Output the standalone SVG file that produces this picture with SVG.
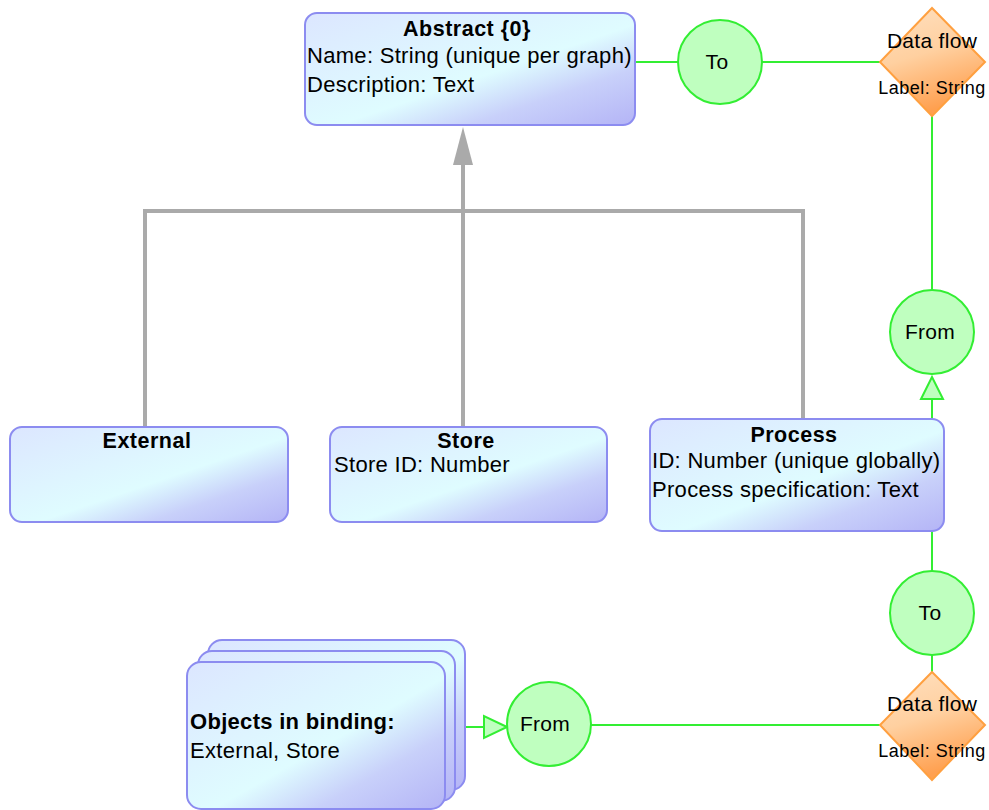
<svg xmlns="http://www.w3.org/2000/svg" width="989" height="810" viewBox="0 0 989 810">
<style>
.box{stroke:#8c8cf0;stroke-width:2;fill:url(#bg)}
.t{font-family:"Liberation Sans",Arial,sans-serif;font-size:22px;fill:#000;letter-spacing:0.3px}
.b{font-weight:bold;font-size:21.5px;text-anchor:middle;letter-spacing:0.5px}
.s{font-size:18px;text-anchor:middle;letter-spacing:0.5px}
.m{text-anchor:middle;font-size:21px}
.gr{stroke:#aaaaaa;stroke-width:4;fill:none}
.gn{stroke:#33ee33;stroke-width:2;fill:none}
.c{fill:#bfffbf;stroke:#33ee33;stroke-width:2}
.d{fill:url(#og);stroke:#ffa040;stroke-width:2}
</style>
<defs>
<linearGradient id="bg" x1="0" y1="0" x2="1" y2="1">
<stop offset="0" stop-color="#dce6ff"/>
<stop offset="0.55" stop-color="#dffcff"/>
<stop offset="0.75" stop-color="#c8d0fa"/>
<stop offset="1" stop-color="#b4b4f6"/>
</linearGradient>
<linearGradient id="og" x1="0" y1="0" x2="0.3" y2="1">
<stop offset="0" stop-color="#ffe0c0"/>
<stop offset="0.5" stop-color="#ffd0a0"/>
<stop offset="1" stop-color="#ffa050"/>
</linearGradient>
<clipPath id="clipA"><rect x="305" y="13" width="330" height="112" rx="12"/></clipPath>
</defs>
<g id="connectors">
<polyline class="gr" points="145,427 145,211 803,211 803,419"/>
<line class="gr" x1="463" y1="160" x2="463" y2="427"/>
<polygon points="463,127 453,165 473,165" fill="#aaaaaa"/>
<line class="gn" x1="635" y1="62" x2="678" y2="62"/>
<line class="gn" x1="762" y1="62" x2="880" y2="62"/>
<line class="gn" x1="932" y1="116" x2="932" y2="290"/>
<line class="gn" x1="932" y1="400" x2="932" y2="419"/>
<polygon points="932,377 921,399 943,399" fill="#bfffbf" stroke="#33ee33" stroke-width="2"/>
<line class="gn" x1="932" y1="531" x2="932" y2="572"/>
<line class="gn" x1="932" y1="655" x2="932" y2="672"/>
<line class="gn" x1="465" y1="727" x2="484" y2="727"/>
<polygon points="507,727 484,716 484,738" fill="#bfffbf" stroke="#33ee33" stroke-width="2"/>
<line class="gn" x1="591" y1="725" x2="880" y2="725"/>
</g>
<g id="abstract">
<rect class="box" x="305" y="13" width="330" height="112" rx="12"/>
<g clip-path="url(#clipA)">
<text class="t b" x="467" y="36">Abstract {0}</text>
<text class="t" x="307" y="63">Name: String (unique per graph)</text>
<text class="t" x="307" y="92">Description: Text</text>
</g>
</g>
<g id="external">
<rect class="box" x="10" y="427" width="278" height="95" rx="12"/>
<text class="t b" x="147" y="448">External</text>
</g>
<g id="store">
<rect class="box" x="330" y="427" width="277" height="95" rx="12"/>
<text class="t b" x="466" y="448">Store</text>
<text class="t" x="334" y="472">Store ID: Number</text>
</g>
<g id="process">
<rect class="box" x="650" y="419" width="294" height="112" rx="12"/>
<text class="t b" x="794" y="442">Process</text>
<text class="t" x="652" y="468">ID: Number (unique globally)</text>
<text class="t" x="652" y="497">Process specification: Text</text>
</g>
<g id="to-top">
<circle class="c" cx="720" cy="62" r="42"/>
<text class="t m" x="717" y="69">To</text>
</g>
<g id="dataflow-top">
<polygon class="d" points="932,8 985,62 932,116 880,62"/>
<text class="t m" x="932" y="48" font-size="22" letter-spacing="0.5">Data flow</text>
<text class="t s" x="932" y="94">Label: String</text>
</g>
<g id="from-right">
<circle class="c" cx="932" cy="332" r="42"/>
<text class="t m" x="930" y="339">From</text>
</g>
<g id="to-bottom">
<circle class="c" cx="932" cy="613" r="42"/>
<text class="t m" x="930" y="620">To</text>
</g>
<g id="dataflow-bottom">
<polygon class="d" points="932,672 985,725 932,780 880,725"/>
<text class="t m" x="932" y="711" font-size="22" letter-spacing="0.5">Data flow</text>
<text class="t s" x="932" y="757">Label: String</text>
</g>
<g id="from-bottom">
<circle class="c" cx="549" cy="724" r="42"/>
<text class="t m" x="545" y="731">From</text>
</g>
<g id="objects-in-binding">
<rect class="box" x="208" y="640" width="257" height="150" rx="14"/>
<rect class="box" x="198" y="651" width="257" height="150" rx="14"/>
<rect class="box" x="187" y="662" width="258" height="147" rx="14"/>
<text class="t" x="190" y="729" font-weight="bold" font-size="21">Objects in binding:</text>
<text class="t" x="190" y="758">External, Store</text>
</g>
</svg>
